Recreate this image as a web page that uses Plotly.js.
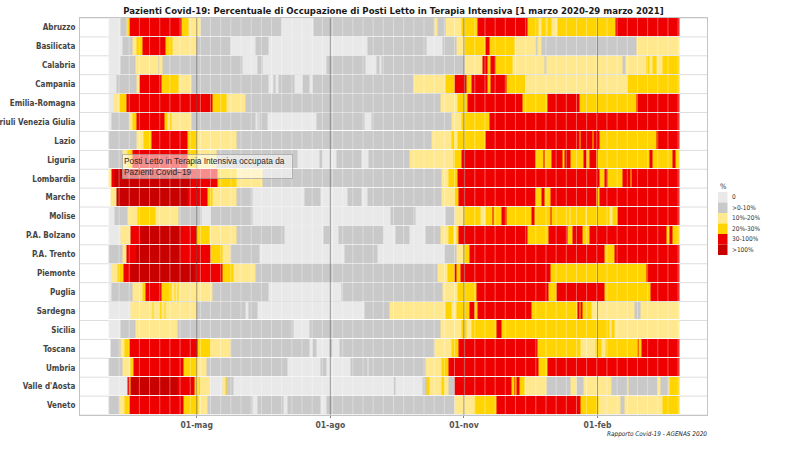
<!DOCTYPE html>
<html>
<head>
<meta charset="utf-8">
<script src="https://cdn.plot.ly/plotly-3.0.1.min.js"></script>
<style>
  html, body { margin: 0; padding: 0; background: #fff; }
  #chart { width: 800px; height: 455px; }
</style>
</head>
<body>
<div id="chart"></div>
<script>
// Occupancy class per region, as runs of [first day index, class].
// Day 0 = 1 March 2020, last day 393 = 29 March 2021.
// Classes: -1 no data, 0 "0", 1 ">0-10%", 2 "10%-20%", 3 "20%-30%", 4 "30-100%", 5 ">100%"
const regions = ["Abruzzo", "Basilicata", "Calabria", "Campania", "Emilia-Romagna",
  "Friuli Venezia Giulia", "Lazio", "Liguria", "Lombardia", "Marche", "Molise",
  "P.A. Bolzano", "P.A. Trento", "Piemonte", "Puglia", "Sardegna", "Sicilia",
  "Toscana", "Umbria", "Valle d'Aosta", "Veneto"];

const classLabels = ["0", ">0-10%", "10%-20%", "20%-30%", "30-100%", ">100%"];
const classColors = ["#e9e9e9", "#c9c9c9", "#ffe88e", "#ffd400", "#ee0000", "#c80000"];

const abruzzo = [[0,-1],[1,0],[9,1],[13,2],[14,3],[15,4],[51,3],[56,2],[64,1],[120,0],[142,1],[225,2],[227,1],[233,2],[244,3],[255,4],[289,3],[297,2],[299,3],[302,2],[303,3],[306,2],[310,3],[350,4]];
const basilicata = [[0,-1],[1,0],[10,1],[17,2],[20,3],[24,4],[40,3],[45,2],[61,1],[85,0],[102,1],[111,0],[179,1],[220,0],[231,1],[240,2],[246,3],[260,4],[263,3],[280,2],[295,1],[296,2],[299,1],[364,2]];
const calabria = [[0,-1],[1,0],[9,1],[19,2],[35,1],[36,2],[38,1],[93,0],[103,1],[107,0],[151,1],[178,0],[185,1],[187,0],[189,1],[246,2],[258,4],[262,3],[264,4],[267,3],[279,2],[301,1],[302,2],[355,1],[357,2],[371,3],[373,2],[375,3],[378,2],[382,3]];
const campania = [[0,-1],[1,0],[6,1],[20,2],[22,4],[37,3],[49,2],[58,1],[111,0],[114,1],[116,0],[118,1],[129,0],[134,1],[139,0],[141,1],[211,2],[233,3],[239,4],[247,3],[251,4],[262,3],[264,4],[275,3],[288,2],[358,3]];
const emiliaRomagna = [[0,-1],[1,0],[4,2],[8,3],[13,4],[72,3],[82,2],[95,1],[229,2],[241,3],[248,4],[286,3],[303,4],[325,3],[364,4]];
const friuliVG = [[0,-1],[1,0],[3,1],[15,2],[17,3],[20,4],[39,3],[41,2],[43,3],[44,2],[58,1],[102,0],[103,1],[104,0],[105,1],[110,0],[144,1],[177,0],[182,1],[237,2],[244,3],[263,4]];
const lazio = [[0,-1],[1,1],[20,2],[25,3],[30,4],[55,3],[61,2],[89,1],[223,2],[237,3],[239,2],[241,3],[260,4],[325,3],[326,4],[334,3],[335,4],[339,3],[378,4]];
const liguria = [[0,-1],[1,1],[10,2],[14,3],[17,4],[55,3],[62,2],[75,1],[131,0],[146,1],[148,0],[158,1],[175,0],[180,1],[208,2],[238,3],[244,4],[295,3],[300,4],[301,3],[306,4],[313,3],[315,4],[319,3],[328,4],[330,3],[332,4],[337,3],[373,4],[375,3],[389,4],[391,3]];
const lombardia = [[0,-1],[1,2],[3,4],[5,5],[58,4],[76,3],[89,2],[107,1],[230,2],[235,3],[241,4],[339,3],[342,4],[344,3],[355,4],[360,3],[361,4]];
const marche = [[0,-1],[2,2],[6,5],[55,4],[69,3],[72,2],[89,1],[100,0],[136,1],[147,0],[165,1],[175,0],[179,1],[230,2],[239,3],[242,4],[295,3],[299,4],[301,3],[305,4],[337,3],[339,4]];
const molise = [[0,-1],[1,0],[5,1],[14,2],[21,3],[33,2],[49,1],[65,0],[71,1],[100,0],[195,1],[212,0],[233,1],[239,2],[245,3],[257,2],[260,3],[265,4],[266,3],[271,4],[275,3],[292,4],[294,3],[305,4],[306,3],[318,2],[319,3],[329,2],[330,3],[346,2],[348,3],[351,4]];
const bolzano = [[0,-1],[1,0],[9,2],[16,4],[23,5],[50,4],[61,3],[70,2],[89,1],[122,0],[149,1],[153,0],[159,1],[190,0],[198,1],[208,0],[219,1],[229,2],[235,3],[238,2],[240,3],[242,4],[289,3],[304,4],[317,3],[320,4],[327,3],[332,4],[385,3],[387,4],[389,3]];
const trento = [[0,-1],[1,1],[10,2],[13,4],[20,5],[50,4],[71,3],[79,2],[85,1],[105,0],[163,1],[186,0],[232,1],[240,2],[245,3],[249,4],[342,3],[349,4]];
const piemonte = [[0,-1],[1,0],[3,2],[7,3],[11,4],[16,5],[60,4],[79,3],[87,2],[102,1],[227,2],[234,3],[239,4],[240,3],[243,4],[305,3],[371,4]];
const puglia = [[0,-1],[1,0],[3,1],[17,2],[24,3],[26,4],[37,3],[44,2],[46,3],[47,2],[48,3],[49,2],[72,1],[111,0],[161,1],[231,2],[241,3],[254,4],[304,3],[309,4],[342,3],[374,4]];
const sardegna = [[0,-1],[1,0],[16,2],[31,3],[32,2],[36,3],[37,2],[39,3],[40,2],[61,1],[95,0],[97,1],[103,0],[177,1],[194,2],[233,3],[237,2],[240,3],[249,4],[253,3],[255,4],[292,3],[324,4],[325,3],[326,4],[327,3],[333,2],[363,1],[367,2]];
const sicilia = [[0,-1],[1,0],[9,1],[19,2],[48,1],[128,0],[139,1],[229,2],[244,3],[247,2],[251,3],[268,4],[271,3],[346,2],[347,3],[349,2]];
const toscana = [[0,-1],[2,1],[9,2],[12,3],[15,4],[62,3],[71,2],[85,1],[139,0],[141,1],[144,0],[153,1],[155,0],[160,1],[225,2],[237,3],[242,4],[296,3],[326,2],[336,3],[340,2],[343,3],[365,4],[366,3],[368,4]];
const umbria = [[0,-1],[1,1],[10,2],[16,3],[18,4],[52,3],[61,2],[68,1],[124,0],[147,1],[151,0],[167,1],[179,0],[180,1],[219,2],[230,3],[235,4],[297,3],[303,4]];
const valleAosta = [[0,-1],[1,0],[14,4],[15,3],[16,5],[48,4],[60,3],[61,2],[63,3],[64,2],[70,0],[79,2],[81,3],[82,1],[87,0],[197,1],[198,0],[217,1],[220,3],[222,2],[230,3],[232,2],[235,1],[239,4],[278,3],[280,4],[281,3],[282,4],[284,3],[287,2],[302,1],[319,2],[323,1],[328,2],[347,1],[358,2],[359,1],[379,2],[381,1],[386,2],[387,3]];
const veneto = [[0,-1],[1,1],[8,2],[12,3],[15,4],[52,3],[63,2],[69,1],[100,0],[103,1],[121,0],[124,1],[147,0],[151,1],[239,2],[253,3],[268,4],[326,3],[338,2],[353,1],[356,2],[382,3]];

const regionRuns = [abruzzo, basilicata, calabria, campania, emiliaRomagna, friuliVG,
  lazio, liguria, lombardia, marche, molise, bolzano, trento, piemonte, puglia,
  sardegna, sicilia, toscana, umbria, valleAosta, veneto];

const firstDay = "2020-03-01";
const nDays = 394;
const tickDates = ["2020-05-01", "2020-08-01", "2020-11-01", "2021-02-01"];
const tickText = ["01-mag", "01-ago", "01-nov", "01-feb"];

// --- build the day axis and the class matrix ---
const DAY = 86400000;
const t0 = Date.parse(firstDay + "T00:00:00Z");
const iso = ms => new Date(ms).toISOString().slice(0, 19).replace("T", " ");
const days = [];
for (let d = 0; d < nDays; d++) days.push(iso(t0 + d * DAY).slice(0, 10));

function expand(runs) {
  const row = new Array(nDays).fill(null);
  for (let i = 0; i < runs.length; i++) {
    const a = runs[i][0];
    const b = i + 1 < runs.length ? runs[i + 1][0] : nDays;
    const v = runs[i][1] < 0 ? null : runs[i][1];
    for (let d = a; d < b; d++) row[d] = v;
  }
  return row;
}
const z = regionRuns.map(expand);
const hoverText = z.map((row, r) => row.map((v, d) =>
  regions[r] + "<br>" + days[d] + "<br>" + (v === null ? "n.d." : classLabels[v])));

// stepped colour scale: one flat band per class
const nC = classColors.length;
const colorscale = [];
classColors.forEach((c, i) => { colorscale.push([i / nC, c]); colorscale.push([(i + 1) / nC, c]); });

const trace = {
  type: "heatmap",
  x: days,
  y: regions,
  z: z,
  zmin: -0.5,
  zmax: nC - 0.5,
  colorscale: colorscale,
  showscale: false,
  ygap: 1,
  text: hoverText,
  hoverinfo: "text"
};

// --- layout helpers (plot area in pixels: x 80..707, y 18..415) ---
const W = 800, H = 455, L = 80, R = 707, T = 18, B = 415;
const px = x => (x - L) / (R - L);
const py = y => (B - y) / (B - T);
const FONT = "DejaVu Sans Condensed, DejaVu Sans";

const shapes = [];
// light row separators beneath the tiles
for (let i = 0; i <= regions.length; i++) {
  shapes.push({ type: "line", xref: "paper", yref: "paper", x0: 0, x1: 1,
    y0: i / regions.length, y1: i / regions.length, layer: "below",
    line: { color: "#dedede", width: 1 } });
}
// faint weekly lines over the tiles (Mondays)
for (let d = 1; d < nDays; d += 7) {
  const x = iso(t0 + (d - 0.5) * DAY);
  shapes.push({ type: "line", xref: "x", yref: "paper", x0: x, x1: x, y0: 0, y1: 1,
    layer: "above", line: { color: "rgba(255,255,255,0.35)", width: 1 } });
}
// major date lines
tickDates.forEach(t => {
  shapes.push({ type: "line", xref: "x", yref: "paper", x0: t, x1: t, y0: 0, y1: 1,
    layer: "above", line: { color: "rgba(90,90,90,0.55)", width: 1 } });
});
// legend swatches
const swTop = 192, swH = 10.5;
classColors.forEach((c, i) => {
  shapes.push({ type: "rect", xref: "paper", yref: "paper",
    x0: px(718), x1: px(727.5), y0: py(swTop + (i + 1) * swH), y1: py(swTop + i * swH),
    fillcolor: c, line: { width: 0 } });
});

const annotations = [];
annotations.push({ xref: "paper", yref: "paper", x: px(718), y: py(186), xanchor: "left",
  yanchor: "middle", text: "%", showarrow: false,
  font: { family: FONT, size: 7.5, color: "#333" } });
classLabels.forEach((lab, i) => {
  annotations.push({ xref: "paper", yref: "paper", x: px(730), y: py(swTop + (i + 0.5) * swH),
    xanchor: "left", yanchor: "middle", text: lab, showarrow: false,
    font: { family: FONT, size: 6.5, color: "#333" } });
});
// source note
annotations.push({ xref: "paper", yref: "paper", x: px(709), y: py(434), xanchor: "right",
  yanchor: "middle", text: "<i>Rapporto Covid-19 - AGENAS 2020</i>", showarrow: false,
  font: { family: FONT, size: 6.4, color: "#222" } });
// info box over the tiles
annotations.push({ xref: "paper", yref: "paper", x: px(122), y: py(154), xanchor: "left",
  yanchor: "top", align: "left", valign: "middle", showarrow: false,
  text: "Posti Letto in Terapia Intensiva occupata da<br>Pazienti Covid\u221219",
  font: { family: "Liberation Sans, Arial", size: 8.3, color: "#2a2a2a" },
  bgcolor: "rgba(255,255,255,0.55)", bordercolor: "rgba(160,160,160,0.7)",
  borderwidth: 1, borderpad: 1, width: 167, height: 21 });

const layout = {
  width: W, height: H,
  margin: { l: L, r: W - R, t: T, b: H - B, pad: 0 },
  paper_bgcolor: "#fff", plot_bgcolor: "#fff",
  title: { text: "Pazienti Covid-19: Percentuale di Occupazione di Posti Letto in Terapia Intensiva [1 marzo 2020-29 marzo 2021]",
    x: 0.5, xref: "paper", xanchor: "center", y: 1 - 11 / H, yanchor: "middle",
    font: { family: FONT, size: 9.5, color: "#1a1a1a", weight: "bold" } },
  xaxis: {
    type: "date",
    range: [iso(t0 - 19.4 * DAY), iso(t0 + 412.4 * DAY)],
    tickvals: tickDates, ticktext: tickText,
    showgrid: false, zeroline: false,
    ticks: "outside", ticklen: 2, tickcolor: "#888", tickwidth: 1,
    showline: true, mirror: true, linecolor: "#c4c4c4", linewidth: 1,
    tickfont: { family: FONT, size: 8.5, color: "#555", weight: "bold" },
    automargin: false, fixedrange: true
  },
  yaxis: {
    type: "category", autorange: "reversed",
    showgrid: false, zeroline: false, ticks: "", ticklabelstandoff: 2,
    showline: true, mirror: true, linecolor: "#c4c4c4", linewidth: 1,
    tickfont: { family: FONT, size: 8, color: "#444", weight: "bold" },
    automargin: false, fixedrange: true
  },
  shapes: shapes,
  annotations: annotations,
  showlegend: false
};

Plotly.newPlot("chart", [trace], layout, { displayModeBar: false, staticPlot: true });
</script>
</body>
</html>
